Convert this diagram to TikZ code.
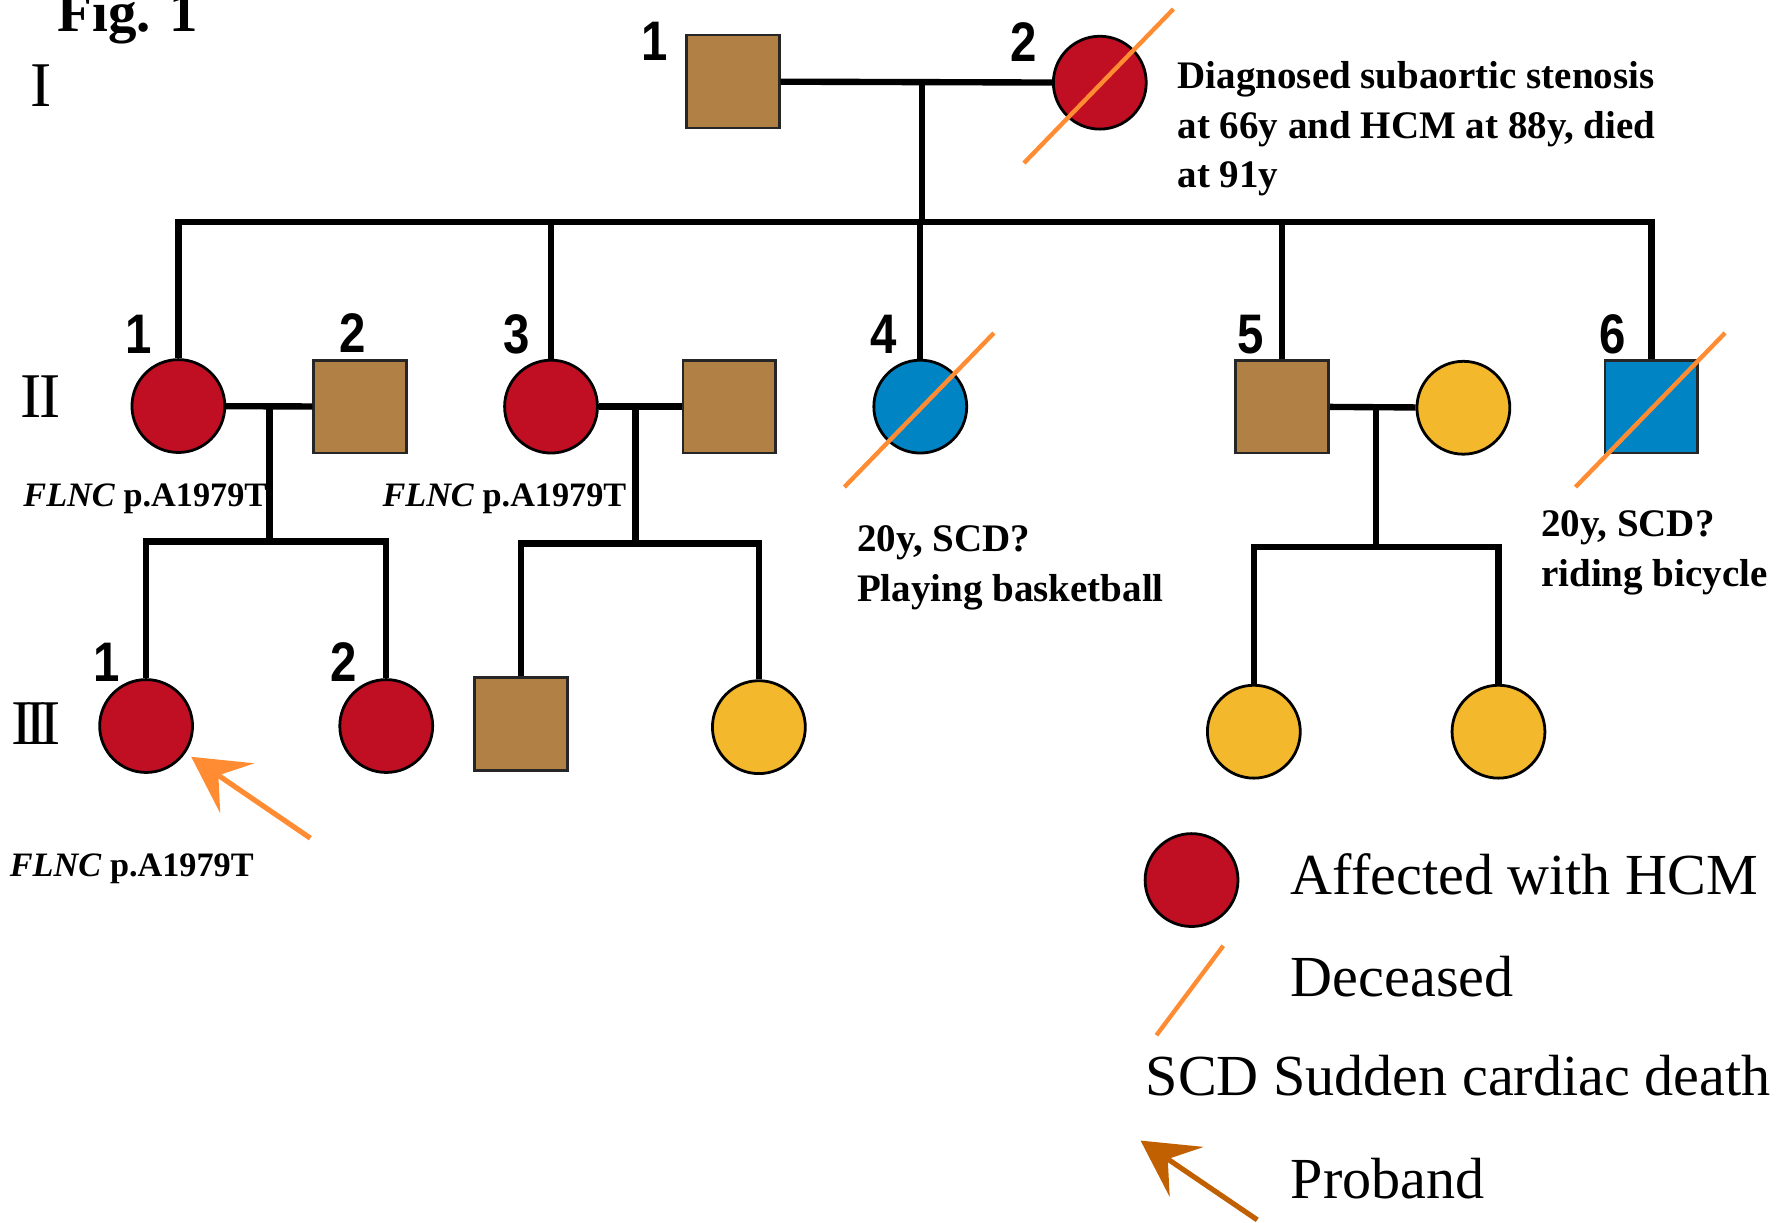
\documentclass[tikz,border=0pt]{standalone}
\usepackage{fontspec}
\setmainfont{Liberation Serif}
\newfontfamily\numfont[FakeStretch=0.85]{Liberation Sans}
\usetikzlibrary{arrows.meta, calc}

\definecolor{hcmred}{HTML}{C00E22}
\definecolor{unaff}{HTML}{B08044}
\definecolor{scdblue}{HTML}{0084C4}
\definecolor{inlaw}{HTML}{F4B82C}
\definecolor{deadorange}{HTML}{FF8C32}
\definecolor{probbrown}{HTML}{C06000}

\tikzset{
  male/.style={rectangle, draw=black!85, line width=0.7pt, minimum size=8.2mm, inner sep=0pt},
  female/.style={circle, draw=black, line width=0.7pt, minimum size=8.2mm, inner sep=0pt},
  rel/.style={line width=1.6pt, line join=miter},
  slash/.style={draw=deadorange, line width=1.1pt},
  probarrow/.style={line width=1.3pt, -{Stealth[length=4.9mm, width=5.3mm, inset=2mm]}},
  num/.style={anchor=base, inner sep=0pt, font=\numfont\bfseries\fontsize{14}{14}\selectfont},
  roman/.style={anchor=base, inner sep=0pt, font=\fontsize{16}{16}\selectfont},
  note/.style={anchor=base west, inner sep=0pt, font=\bfseries\fontsize{9.8}{12.5}\selectfont},
  gene/.style={anchor=base west, inner sep=0pt, font=\bfseries\fontsize{8.6}{10}\selectfont},
  legend/.style={anchor=base west, inner sep=0pt, font=\fontsize{14.6}{17}\selectfont}
}

\begin{document}
\begin{tikzpicture}[x=0.1mm, y=-0.1mm]
        \useasboundingbox (0,0) rectangle (1568,1079);

        \node[anchor=base west, inner sep=0pt, font=\bfseries\fontsize{14.3}{14}\selectfont] (fig) at (50,28) {Fig. 1};

        \node[roman] (genI) at (36,94) {I};
        \node[roman] (genII) at (36,369) {I\kern-0.6pt I};
        \node[roman] (genIII) at (32,657) {I\kern-1.8pt I\kern-1.8pt I};

        % generation I
        \node[male, fill=unaff] (I1) at (647,72) {};
        \node[female, fill=hcmred] (I2) at (971,73) {};
        \node[num] (nI1) at (578,53) {1};
        \node[num] (nI2) at (904,54) {2};
        \node[note] (txtI2) at (1039,78) {\begin{tabular}[t]{@{}l@{}}Diagnosed subaortic stenosis\\at 66y and HCM at 88y, died\\at 91y\end{tabular}};

        % generation II
        \node[female, fill=hcmred] (II1) at (157.5,358.5) {};
        \node[male, fill=unaff] (II2) at (318,359) {};
        \node[female, fill=hcmred] (II3) at (486.5,359) {};
        \node[male, fill=unaff] (II3s) at (644,359) {};
        \node[female, fill=scdblue] (II4) at (812.5,359) {};
        \node[male, fill=unaff] (II5) at (1132,359) {};
        \node[female, fill=inlaw] (II5s) at (1292,360) {};
        \node[male, fill=scdblue] (II6) at (1458,359) {};

        \node[num] (nII1) at (122,312) {1};
        \node[num] (nII2) at (311,311) {2};
        \node[num] (nII3) at (456,312) {3};
        \node[num] (nII4) at (780,312) {4};
        \node[num] (nII5) at (1104,312) {5};
        \node[num] (nII6) at (1424,312) {6};

        \node[gene] (gII1) at (20,447) {\textit{FLNC} p.A1979T};
        \node[gene] (gII3) at (337,447) {\textit{FLNC} p.A1979T};
        \node[note] (txtII4) at (756,487) {\begin{tabular}[t]{@{}l@{}}20y, SCD?\\Playing basketball\end{tabular}};
        \node[note] (txtII6) at (1360,474) {\begin{tabular}[t]{@{}l@{}}20y, SCD?\\riding bicycle\end{tabular}};

        % generation III
        \node[female, fill=hcmred] (III1) at (129,641) {};
        \node[female, fill=hcmred] (III2) at (341,641) {};
        \node[male, fill=unaff] (III3) at (460,639) {};
        \node[female, fill=inlaw] (III4) at (670,642) {};
        \node[female, fill=inlaw] (III5) at (1107,646) {};
        \node[female, fill=inlaw] (III6) at (1323,646) {};

        \node[num] (nIII1) at (94,602) {1};
        \node[num] (nIII2) at (303,602) {2};
        \node[gene] (gIII1) at (8,774) {\textit{FLNC} p.A1979T};

        % lines of descent
        \coordinate (mI) at (814,71);
        \coordinate (sI) at (814,196);
        \draw[rel] (I1) -- (I2);
        \draw[rel] (mI) -- (sI);
        \draw[rel] (II1.north) -- (II1 |- sI) -- (II6 |- sI) -- (II6.north);
        \foreach \c in {II3,II4,II5}
          \draw[rel] (\c |- sI) -- (\c.north);

        \coordinate (mII1) at (238,359);
        \coordinate (sII1) at (238,478);
        \draw[rel] (II1) -- (II2);
        \draw[rel] (mII1) -- (sII1);
        \draw[rel] (III1.north) -- (III1 |- sII1) -- (III2 |- sII1) -- (III2.north);

        \coordinate (mII3) at (561,359);
        \coordinate (sII3) at (561,480);
        \draw[rel] (II3) -- (II3s);
        \draw[rel] (mII3) -- (sII3);
        \draw[rel] (III3.north) -- (III3 |- sII3) -- (III4 |- sII3) -- (III4.north);

        \coordinate (mII5) at (1215,359);
        \coordinate (sII5) at (1215,483);
        \draw[rel] (II5) -- (II5s);
        \draw[rel] (mII5) -- (sII5);
        \draw[rel] (III5.north) -- (III5 |- sII5) -- (III6 |- sII5) -- (III6.north);

        % deceased
        \foreach \d in {I2,II4,II6}
          \draw[slash] ($(\d)+(-67,71)$) -- ($(\d)+(65,-65)$);

        % proband
        \coordinate (pa) at (274,740);
        \draw[probarrow, deadorange, shorten >=0.6mm] (pa) -- (III1);

        % legend
        \node[female, fill=hcmred] (lgaff) at (1052,777) {};
        \node[legend] (lgafftxt) at (1139,790) {Affected with HCM};
        \coordinate (lgd1) at (1021,914);
        \coordinate (lgd2) at (1080,835);
        \draw[slash] (lgd1) -- (lgd2);
        \node[legend] (lgdeadtxt) at (1139,880) {Deceased};
        \node[legend] (lgscd) at (1011,967) {SCD Sudden cardiac death};
        \coordinate (lgp1) at (1110,1077);
        \coordinate (lgp2) at (1007,1007);
        \draw[probarrow, probbrown] (lgp1) -- (lgp2);
        \node[legend] (lgprobtxt) at (1139,1058) {Proband};
\end{tikzpicture}
\end{document}
